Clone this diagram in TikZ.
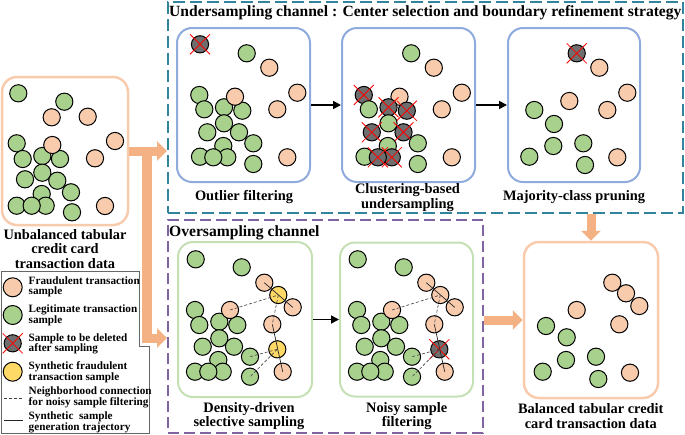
\documentclass[tikz,border=0pt]{standalone}
\usepackage{fontspec}
\setmainfont{Liberation Serif}
\usetikzlibrary{arrows.meta,calc}
\definecolor{frc}{HTML}{F8CBAD}
\definecolor{lgc}{HTML}{A9D18E}
\definecolor{dlc}{HTML}{6E6E6E}
\definecolor{syc}{HTML}{FFD966}
\definecolor{obc}{HTML}{F8CBAD}
\definecolor{bbc}{HTML}{8FAADC}
\definecolor{gbc}{HTML}{C5E0B4}
\definecolor{tlc}{HTML}{31849B}
\definecolor{ppc}{HTML}{8064A2}
\definecolor{arc}{HTML}{F4B183}
\newcommand{\delnode}[3]{\node[dl] (#1) at (#2,#3) {};\draw[redx] ($(#1)+(-10,-10)$) -- ($(#1)+(10,10)$) ($(#1)+(-10,10)$) -- ($(#1)+(10,-10)$);}
\begin{document}
\begin{tikzpicture}[x=1pt,y=-1pt,
  dot/.style={circle,draw=black,line width=1pt,minimum size=17.2pt,inner sep=0pt},
  fr/.style={dot,fill=frc},
  lg/.style={dot,fill=lgc},
  dl/.style={dot,fill=dlc},
  sy/.style={dot,fill=syc},
  redx/.style={draw=red,line width=0.8pt},
  box/.style={rounded corners=15pt,line width=2pt,minimum width=133pt,minimum height=154pt,inner sep=0pt},
  obox/.style={box,draw=obc,line width=2.5pt},
  bbox/.style={box,draw=bbc},
  gbox/.style={box,draw=gbc},
  lbl/.style={font=\bfseries\fontsize{14.4}{14.8}\selectfont,align=center,inner sep=0pt},
  ttl/.style={font=\bfseries\fontsize{15.6}{16}\selectfont,inner sep=0pt,anchor=west},
  legtxt/.style={font=\bfseries\fontsize{11.2}{10.6}\selectfont,align=left,inner sep=0pt,anchor=west},
  nbr/.style={draw=black!75,line width=0.6pt,dash pattern=on 3pt off 2pt},
  traj/.style={draw=black!85,line width=0.7pt},
  blk/.style={draw=black,line width=1.7pt,-{Triangle[length=8pt,width=8pt]}},
  bigarr/.style={draw=arc,line width=9pt,-{Triangle[length=10pt,width=19pt]}},
  bar/.style={draw=arc,line width=10pt}
]
\useasboundingbox (0,0) rectangle (685,434);

% group frames
\node[draw=tlc,line width=2pt,dash pattern=on 12pt off 5pt,minimum width=515pt,minimum height=211pt,inner sep=0pt] (us) at (425.5,107.5) {};
\node[draw=ppc,line width=2pt,dash pattern=on 11pt off 5pt,minimum width=315pt,minimum height=213pt,inner sep=0pt] (ov) at (325.5,326.5) {};
\node[ttl] (ust) at (169,13) {Undersampling channel : Center selection and boundary refinement strategy};
\node[ttl] (ovt) at (169,233) {Oversampling channel};

% ---------- unbalanced data ----------
\node[obox,minimum width=126pt,minimum height=148pt] (unb) at (65,151) {};
\foreach \x/\y [count=\i] in {18.3/93.3,64.3/101.7,16.7/143.3,22.7/159,42.3/156,60/159,42.3/172.7,25/179.3,57.3/180.7,41.7/194,71/192.3,16.7/205.7,45.7/205.7,31.7/205.7,72/212.3}
  \node[lg] (ug\i) at (\x,\y) {};
\foreach \x/\y [count=\i] in {51.7/117.3,87.7/116.7,52.3/145,115/141,95/158.3,105/206}
  \node[fr] (uf\i) at (\x,\y) {};
\node[lbl] (unbl) at (65,249) {Unbalanced tabular\\credit card\\transaction data};

% ---------- box 1: outlier filtering ----------
\node[bbox] (b1) at (243.5,105) {};
\foreach \x/\y [count=\i] in {199.3/95,204.3/109.3,224/107.3,242.3/110.7,224/123.3,207.3/132.3,239/132.3,253.3/143.3,223.3/146,200/156.7,227.3/157.3,213.3/157.3,253.3/164,246.7/53.3}
  \node[lg] (a\i) at (\x,\y) {};
\foreach \x/\y [count=\i] in {269.3/67.7,235/96.7,297.3/92.7,277.3/109.3,287.3/157.3}
  \node[fr] (af\i) at (\x,\y) {};
\delnode{ad1}{200}{44.3}
\node[lbl] (b1l) at (244,197) {Outlier filtering};

% ---------- box 2: clustering-based undersampling ----------
\node[bbox] (b2) at (408.5,105) {};
\delnode{c1}{363.8}{95}
\node[lg] (c2) at (368.8,109.3) {};
\foreach \x/\y [count=\i] in {433.8/67.7,399.5/96.7,461.8/92.7,441.8/109.3,451.8/157.3}
  \node[fr] (cf\i) at (\x,\y) {};
\delnode{c3}{388.5}{107.3}
\delnode{c4}{406.8}{110.7}
\node[lg] (c5) at (388.5,123.3) {};
\delnode{c6}{371.8}{132.3}
\delnode{c7}{403.5}{132.3}
\node[lg] (c8) at (417.8,143.3) {};
\node[lg] (c9) at (387.8,146) {};
\node[lg] (c10) at (364.5,156.7) {};
\delnode{c11}{391.8}{157.3}
\delnode{c12}{377.8}{157.3}
\node[lg] (c13) at (417.8,164) {};
\node[lg] (c14) at (411.2,53.3) {};
\node[lbl] (b2l) at (407.5,197.5) {Clustering-based\\undersampling};

% ---------- box 3: majority-class pruning ----------
\node[bbox,minimum width=132pt] (b3) at (574,105) {};
\foreach \x/\y [count=\i] in {534.3/110,554/124,553.3/146,583.3/143.3,529.3/156.7,585/165}
  \node[lg] (e\i) at (\x,\y) {};
\foreach \x/\y [count=\i] in {599.3/67.7,569.3/101,627.3/92.7,607.3/110,617.3/157.3}
  \node[fr] (ef\i) at (\x,\y) {};
\delnode{ed1}{576.7}{53.3}
\node[lbl] (b3l) at (574,197) {Majority-class pruning};

\draw[blk] (b1.east) -- (b2.west);
\draw[blk] (b2.east) -- (b3.west);

% ---------- box 4: density-driven selective sampling ----------
\node[gbox,minimum width=134pt,minimum height=155pt] (b4) at (245,319.5) {};
\foreach \x/\y [count=\i] in {195.7/259.3,241.7/267.3,195/310,199.3/325,219.3/321.7,237.3/325,219.3/338.3,202.7/346.7,234/346.7,218.3/360,250/356.7,195/371.7,222.7/371.7,208.3/371.7,250/376.7}
  \node[lg] (p\i) at (\x,\y) {};
\node[fr] (po1) at (264.3,282.7) {};
\node[fr] (po2) at (230,310) {};
\node[sy] (py1) at (278.3,295) {};
\node[fr] (po3) at (292.7,307.3) {};
\node[fr] (po4) at (272.3,324.3) {};
\node[sy] (py2) at (277.3,349.3) {};
\node[fr] (po5) at (282.7,371.7) {};
\draw[traj] (po1.center) -- (po3.center);
\draw[traj] (po4.center) -- (po5.center);
\draw[nbr] (po2.center) -- (py1.center);
\draw[nbr] (py1.center) -- (po4.center);
\draw[nbr] (py2.center) -- (p11.center);
\draw[nbr] (py2.center) -- (p15.center);
\node[lbl] (b4l) at (249,416) {Density-driven\\selective sampling};

% ---------- box 5: noisy sample filtering ----------
\node[gbox] (b5) at (406.5,319.5) {};
\foreach \x/\y [count=\i] in {357.7/259.3,403.7/267.3,357/310,361.3/325,381.3/321.7,399.3/325,381.3/338.3,364.7/346.7,396/346.7,380.3/360,412/356.7,357/371.7,384.7/371.7,370.3/371.7,412/376.7}
  \node[lg] (q\i) at (\x,\y) {};
\node[fr] (qo1) at (426.3,282.7) {};
\node[fr] (qo2) at (392,310) {};
\node[fr] (qo6) at (440.3,295) {};
\node[fr] (qo3) at (454.7,307.3) {};
\node[fr] (qo4) at (434.3,324.3) {};
\delnode{qd}{439.3}{349.3}
\node[fr] (qo5) at (444.7,371.7) {};
\draw[traj] (qo1.center) -- (qo3.center);
\draw[traj] (qo4.center) -- (qo5.center);
\draw[nbr] (qo2.center) -- (qo6.center);
\draw[nbr] (qo6.center) -- (qo4.center);
\draw[nbr] (qd.center) -- (q11.center);
\draw[nbr] (qd.center) -- (q15.center);
\node[lbl] (b5l) at (406.7,416) {Noisy sample\\filtering};

\draw[blk] (b4.east) -- (b5.west);

% ---------- balanced data ----------
\node[obox,minimum width=134pt,minimum height=156pt] (bal) at (591,320) {};
\foreach \x/\y [count=\i] in {546/326,566.7/337.3,566/360,596/356.7,542.7/371.7,598.3/379}
  \node[lg] (r\i) at (\x,\y) {};
\foreach \x/\y [count=\i] in {612.3/282.7,626/293.3,639.3/306,576.7/310,619.3/324.3,630/372.7}
  \node[fr] (rf\i) at (\x,\y) {};
\node[lbl] (ball) at (590.8,416) {Balanced tabular credit\\card transaction data};

% ---------- big arrows ----------
\coordinate (jt) at (146.7,151);
\coordinate (jb) at (146.7,338);
\draw[bar] ($(jt)+(0,-4)$) -- ($(jb)+(0,5)$);
\draw[bigarr] (unb.east) -- (us.west |- unb.east);
\draw[bigarr] ($(jb)+(-5,0)$) -- (ov.west |- jb);
\draw[bigarr] (bal.north |- us.south) -- (bal.north);
\draw[bigarr] (ov.east |- bal.west) -- (bal.west);

% ---------- legend ----------
\draw[draw=black!60,line width=0.8pt] (1,271) -- (139.5,271) -- (139.5,346) -- (149.3,346) -- (149.3,433.6) -- (1,433.6) -- cycle;
\node[fr,minimum size=19pt] (l1) at (12.7,287.3) {};
\node[legtxt] (lt1) at (28.5,287) {Fraudulent transaction\\sample};
\node[lg,minimum size=19pt] (l2) at (12.7,315) {};
\node[legtxt] (lt2) at (28.5,315.3) {Legitimate transaction\\sample};
\delnode{l3}{12.7}{343.3}
\node[legtxt] (lt3) at (28.5,344) {Sample to be deleted\\after sampling};
\node[sy,minimum size=19pt] (l4) at (12.7,371.7) {};
\node[legtxt] (lt4) at (28.5,372) {Synthetic fraudulent\\transaction sample};
\coordinate (ld1) at (4,398.3);
\coordinate (ld2) at (22,398.3);
\draw[nbr,line width=0.8pt] (ld1) -- (ld2);
\node[legtxt] (lt5) at (28.5,397.3) {Neighborhood connection\\for noisy sample filtering};
\coordinate (ls1) at (4,420.7);
\coordinate (ls2) at (23,420.7);
\draw[traj,line width=0.8pt] (ls1) -- (ls2);
\node[legtxt] (lt6) at (28.5,422.5) {Synthetic\ \ sample\\generation trajectory};
\end{tikzpicture}
\end{document}
